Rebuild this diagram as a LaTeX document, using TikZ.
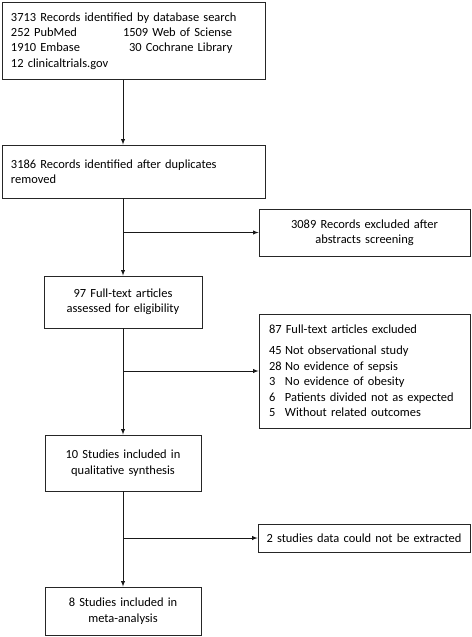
\documentclass[tikz,border=0pt]{standalone}
\usepackage{fontspec}
\setmainfont{Carlito}

\begin{document}
\begin{tikzpicture}[x=1bp,y=-1bp,
  box/.style={draw=black!85,line width=0.8bp,inner sep=0pt,font=\fontsize{12.5}{15.5}\selectfont},
  flow/.style={-latex,line width=0.9bp,draw=black!90}]

\useasboundingbox (0,0) rectangle (472,637);

\coordinate (spine) at (123,0);

\node [box,minimum width=263bp,minimum height=77bp,text width=245bp,align=left] (search) at (133.5,41) {3713 Records identified by database search\\
\makebox[112bp][l]{252 PubMed}1509 Web of Sciense\\
\makebox[118bp][l]{1910 Embase}30 Cochrane Library\\
12 clinicaltrials.gov};

\node [box,minimum width=263bp,minimum height=53bp,text width=245bp,align=left] (dedup) at (133.5,171.5) {3186 Records identified after duplicates\\removed};

\node [box,minimum width=211bp,minimum height=47bp,text width=195bp,align=center] (abstr) at (364.5,232.5) {3089 Records excluded after\\abstracts screening};

\node [box,minimum width=158bp,minimum height=52bp,text width=145bp,align=center] (fulltext) at (123,302) {97 Full-text articles\\assessed for eligibility};

\node [box,minimum width=211bp,minimum height=114bp,text width=191bp,align=left] (excl) at (364.5,371) {87 Full-text articles excluded\\[5.5bp]
\makebox[16bp][l]{45}Not observational study\\
\makebox[16bp][l]{28}No evidence of sepsis\\
\makebox[16bp][l]{3}No evidence of obesity\\
\makebox[16bp][l]{6}Patients divided not as expected\\
\makebox[16bp][l]{5}Without related outcomes};

\node [box,minimum width=156bp,minimum height=56bp,text width=145bp,align=center] (qual) at (123,463) {10 Studies included in\\qualitative synthesis};

\node [box,minimum width=212bp,minimum height=28bp,text width=205bp,align=center] (noextr) at (364,538) {2 studies data could not be extracted};

\node [box,minimum width=156bp,minimum height=48bp,text width=145bp,align=center] (meta) at (123,611) {8 Studies included in\\meta-analysis};

% main flow
\draw [flow] (search.south -| spine) -- (dedup.north -| spine);
\draw [flow] (dedup.south -| spine) -- (fulltext.north);
\draw [flow] (fulltext.south) -- (qual.north);
\draw [flow] (qual.south) -- (meta.north);

% exclusions
\draw [flow] (abstr.west -| spine) -- (abstr.west);
\draw [flow] (excl.west -| spine) -- (excl.west);
\draw [flow] (noextr.west -| spine) -- (noextr.west);

\end{tikzpicture}
\end{document}
